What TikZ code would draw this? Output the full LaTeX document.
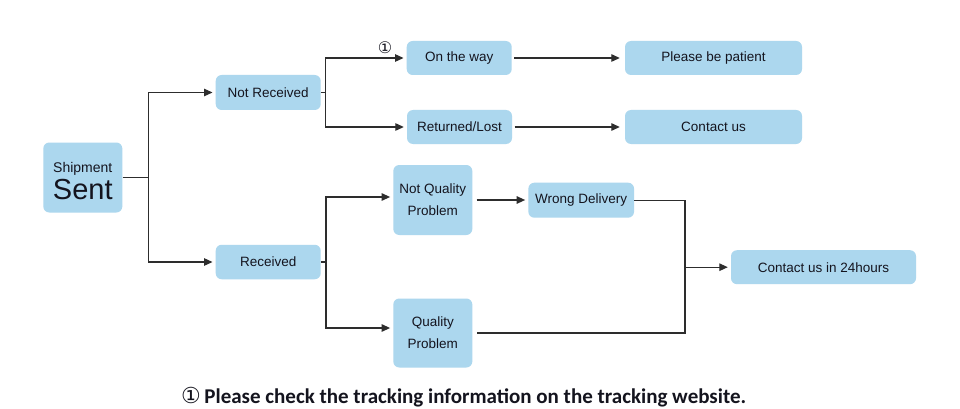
\documentclass[tikz,border=0pt]{standalone}
\usepackage{fontspec}
\setmainfont{Liberation Sans}
\newfontfamily\symfont{DejaVu Sans}
\newfontfamily\notefont{Carlito}
\usetikzlibrary{arrows.meta,calc}
\definecolor{boxblue}{RGB}{172,215,238}
\definecolor{linegray}{RGB}{45,45,45}
\definecolor{txt}{RGB}{20,20,30}
\begin{document}
\begin{tikzpicture}[x=1pt,y=-1pt,
  box/.style={fill=boxblue, rounded corners=6pt, inner sep=0pt, align=center,
    font=\fontsize{13.5}{22}\selectfont, text=txt},
  conn/.style={draw=linegray, line width=1.2pt},
  arr/.style={conn, -{Triangle[length=8.5pt,width=7.5pt]}, shorten >=3pt}
]
\useasboundingbox[fill=white] (0,0) rectangle (960,409);
\node[box, minimum width=79pt, minimum height=70pt, font=\fontsize{14}{27.5}\selectfont] (ship) at (82.8,177.5)
  {\rule{0pt}{17pt}Shipment\\{\fontsize{29}{29}\selectfont Sent}};
\node[box, minimum width=105pt, minimum height=35pt] (nr) at (268.2,92.5) {Not Received};
\node[box, minimum width=105pt, minimum height=34.5pt] (rec) at (268.2,262) {Received};
\node[box, minimum width=105pt, minimum height=34pt] (otw) at (459.2,58) {On the way};
\node[box, minimum width=105pt, minimum height=34pt] (rl) at (459.5,127) {Returned/Lost};
\node[box, minimum width=177pt, minimum height=34pt] (pbp) at (713.5,58) {Please be patient};
\node[box, minimum width=177pt, minimum height=34pt] (cu) at (713.5,127) {Contact us};
\node[box, minimum width=79pt, minimum height=70pt] (nqp) at (432.8,200) {Not Quality\\Problem};
\node[box, minimum width=79pt, minimum height=69pt] (qp) at (432.8,333) {Quality\\Problem};
\node[box, minimum width=105.7pt, minimum height=35pt] (wd) at (581.2,200.2) {Wrong Delivery};
\node[box, minimum width=185pt, minimum height=34pt] (cu24) at (823.5,267.2) {Contact us in 24hours};

\draw[conn] (ship.east) -- (148.3,177.5) coordinate (j1);
\draw[arr] (j1) |- (nr.west);
\draw[arr] (j1) |- (rec.west);
\draw[conn] (nr.east) -- ++(4.6,0) coordinate (j2);
\draw[arr] (j2) |- (otw.west);
\draw[arr] (j2) |- (rl.west);
\draw[conn] (rec.east) -- ++(5,0) coordinate (j3);
\draw[arr] (j3) |- ($(nqp.west)+(0,-3)$);
\draw[arr] (j3) |- ($(qp.west)+(0,-5)$);
\draw[arr, shorten <=2.5pt, shorten >=5pt] (otw.east) -- (pbp.west);
\draw[arr, shorten <=2.5pt, shorten >=5pt] (rl.east) -- (cu.west);
\draw[arr, shorten <=4pt] (nqp.east) -- (wd.west |- nqp.east);
\coordinate (j5) at (685,333);
\draw[conn] (wd.east) -| (j5) -- ([xshift=4pt]qp.east);
\draw[arr] (j5 |- cu24.west) -- (cu24.west);

\node[font=\symfont\fontsize{16}{16}\selectfont, text=txt, inner sep=0pt] (c1) at (385,48) {①};
\node[anchor=west, font=\notefont\bfseries\fontsize{21}{21}\selectfont, text=txt, inner sep=0pt] (note) at (181,397)
  {{\symfont\mdseries\fontsize{22}{22}\selectfont ①}\,Please check the tracking information on the tracking website.};
\end{tikzpicture}
\end{document}
